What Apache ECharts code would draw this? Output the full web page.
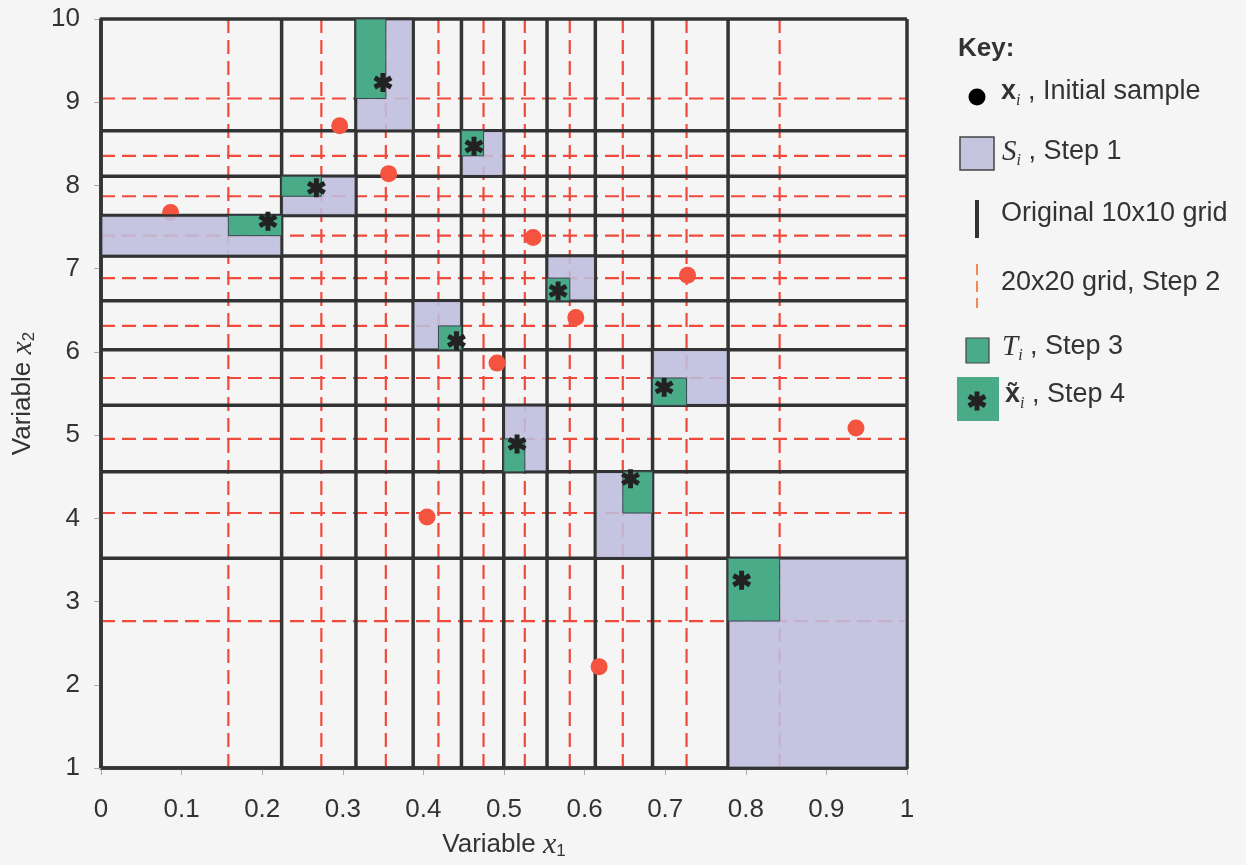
<!DOCTYPE html>
<html><head><meta charset="utf-8">
<script src="https://cdn.jsdelivr.net/npm/echarts@6/dist/echarts.min.js"></script>
<style>html,body{margin:0;padding:0;background:#f5f5f5;}#c{width:1246px;height:865px;}</style>
</head><body><div id="c"></div>
<script>
// Original 10x10 grid boundaries (solid lines)
const xCuts10 = [0, 0.2241, 0.3163, 0.3873, 0.4472, 0.4997, 0.5534, 0.6133, 0.6843, 0.7780, 1];
const yCuts10 = [1, 3.520, 4.559, 5.358, 6.025, 6.614, 7.151, 7.639, 8.110, 8.658, 10];
// 20x20 grid, step 2 (dashed lines), one inside each original column / row
const xCuts20 = [0.1580, 0.2734, 0.3534, 0.4187, 0.4746, 0.5258, 0.5816, 0.6474, 0.7265, 0.8420];
const yCuts20 = [2.766, 4.064, 4.955, 5.686, 6.312, 6.886, 7.397, 7.870, 8.356, 9.045];
// Initial sample x_i
const sampleX = [0.0863, 0.2961, 0.3569, 0.5361, 0.7277, 0.5891, 0.4914, 0.9367, 0.4045, 0.6180];
const sampleY = [7.675, 8.718, 8.142, 7.375, 6.920, 6.413, 5.865, 5.086, 4.016, 2.218];
// S_i cells (column / row index in the 10x10 grid)
const cellCol = [0, 1, 2, 4, 6, 3, 8, 5, 7, 9];
const cellRow = [6, 7, 9, 8, 5, 4, 3, 2, 1, 0];
// T_i sub-cell inside S_i: 0 = left/lower half, 1 = right/upper half
const subCol = [1, 0, 0, 0, 0, 1, 0, 0, 1, 0];
const subRow = [1, 1, 1, 1, 0, 0, 0, 0, 1, 1];
// Step 4 points x~_i
const starX = [0.2071, 0.2672, 0.3498, 0.4628, 0.5671, 0.4410, 0.6987, 0.5162, 0.6570, 0.7948];
const starY = [7.571, 7.971, 9.237, 8.470, 6.732, 6.133, 5.574, 4.894, 4.475, 3.256];

const FONT = 'Liberation Sans';
const SOLID = '#333333';
const DASH = '#f04a3c';
const PURPLE = '#c4c4de';
const GREEN = '#4aab88';
const DOT = '#f4543f';
const ARMS = [
  [[-0.26, -1], [0.26, -1], [0.26, 1], [-0.26, 1]],
  [[0.736, -0.725], [0.996, -0.275], [-0.736, 0.725], [-0.996, 0.275]],
  [[-0.996, -0.275], [-0.736, -0.725], [0.996, 0.275], [0.736, 0.725]]
];
const STAR = 'path://' + ARMS.map(a => 'M' + a.map(p => p[0] + ',' + p[1]).join('L') + 'Z').join(' ');

const sRects = cellCol.map((c, i) => {
  const r = cellRow[i];
  return [xCuts10[c], xCuts10[c + 1], yCuts10[r], yCuts10[r + 1]];
});
const tRects = cellCol.map((c, i) => {
  const r = cellRow[i];
  const x = subCol[i] ? [xCuts20[c], xCuts10[c + 1]] : [xCuts10[c], xCuts20[c]];
  const y = subRow[i] ? [yCuts20[r], yCuts10[r + 1]] : [yCuts10[r], yCuts20[r]];
  return [x[0], x[1], y[0], y[1]];
});

function lineSeries(vals, vertical, style, z) {
  return {
    type: 'custom', z: z, silent: true,
    data: vals.map(v => vertical ? [v, 1] : [0, v]),
    renderItem: function (params, api) {
      const v = vertical ? api.value(0) : api.value(1);
      const a = vertical ? api.coord([v, 1]) : api.coord([0, v]);
      const b = vertical ? api.coord([v, 10]) : api.coord([1, v]);
      return { type: 'line', shape: { x1: a[0], y1: a[1], x2: b[0], y2: b[1] }, style: style };
    }
  };
}
function rectSeries(data, fill, stroke, lw, z) {
  return {
    type: 'custom', z: z, silent: true,
    data: data,
    renderItem: function (params, api) {
      const p0 = api.coord([api.value(0), api.value(3)]);
      const p1 = api.coord([api.value(1), api.value(2)]);
      return { type: 'rect', shape: { x: p0[0], y: p0[1], width: p1[0] - p0[0], height: p1[1] - p0[1] },
        style: { fill: fill, stroke: stroke, lineWidth: lw } };
    }
  };
}

const nameRich = {
  n: { fontSize: 26, fontFamily: FONT, color: '#333' },
  v: { fontSize: 30, fontFamily: 'Liberation Serif', fontStyle: 'italic', color: '#333' },
  s: { fontSize: 17, fontFamily: FONT, color: '#333', verticalAlign: 'bottom', lineHeight: 14 }
};

const legRich = {
  n: { fontSize: 27, fontFamily: FONT, color: '#333', lineHeight: 34 },
  b: { fontSize: 27, fontFamily: FONT, fontWeight: 'bold', color: '#333', lineHeight: 34 },
  sc: { fontSize: 29, fontFamily: 'Liberation Serif', fontStyle: 'italic', color: '#333', lineHeight: 34 },
  s: { fontSize: 16, fontFamily: 'Liberation Serif', fontStyle: 'italic', color: '#333', verticalAlign: 'bottom', lineHeight: 16 }
};
function legText(x, y, text) {
  return { type: 'text', x: x, y: y, style: { text: text, rich: legRich, verticalAlign: 'middle', align: 'left', fill: '#333' } };
}
function legStar(cx, cy, half) {
  return ARMS.map(a => ({ type: 'polygon', shape: { points: a.map(p => [cx + p[0] * half, cy + p[1] * half]) }, style: { fill: '#222' } }));
}

const chart = echarts.init(document.getElementById('c'), null, { renderer: 'canvas' });
chart.setOption({
  backgroundColor: '#f5f5f5',
  animation: false,
  grid: { left: 101, right: 339, top: 19, bottom: 95 },
  xAxis: {
    type: 'value', min: 0, max: 1, interval: 0.1,
    axisLine: { show: true, lineStyle: { color: SOLID, width: 3.5 } },
    axisTick: { show: true, length: 7, lineStyle: { color: '#aaa', width: 1 } },
    axisLabel: { fontSize: 26, color: '#333', margin: 29, fontFamily: FONT },
    splitLine: { show: false },
    name: '{n|Variable }{v|x}{s|1}', nameLocation: 'middle', nameGap: 62,
    nameTextStyle: { rich: nameRich }
  },
  yAxis: {
    type: 'value', min: 1, max: 10, interval: 1,
    axisLine: { show: true, lineStyle: { color: SOLID, width: 3.5 } },
    axisTick: { show: true, length: 7, lineStyle: { color: '#aaa', width: 1 } },
    axisLabel: { fontSize: 26, color: '#333', margin: 21, fontFamily: FONT },
    splitLine: { show: false },
    name: '{n|Variable }{v|x}{s|2}', nameLocation: 'middle', nameGap: 63,
    nameTextStyle: { rich: nameRich }
  },
  series: [
    lineSeries(xCuts20, true, { stroke: DASH, lineWidth: 2.2, lineDash: [14, 7] }, 2),
    lineSeries(yCuts20, false, { stroke: DASH, lineWidth: 2.2, lineDash: [14, 7] }, 2),
    lineSeries(xCuts10, true, { stroke: SOLID, lineWidth: 3.5 }, 3),
    lineSeries(yCuts10, false, { stroke: SOLID, lineWidth: 3.5 }, 3),
    { type: 'scatter', z: 4, silent: true, symbol: 'circle', symbolSize: 17,
      itemStyle: { color: DOT, opacity: 1 },
      data: sampleX.map((x, i) => [x, sampleY[i]]) },
    rectSeries(sRects, 'rgba(190,190,222,0.88)', SOLID, 2.5, 5),
    rectSeries(tRects, GREEN, '#3a4a55', 1, 6),
    { type: 'scatter', z: 7, silent: true, symbol: STAR, symbolSize: 19,
      itemStyle: { color: '#222', opacity: 1 },
      data: starX.map((x, i) => [x, starY[i]]) }
  ],
  graphic: [
    { type: 'text', x: 958, y: 49, style: { text: 'Key:', fontSize: 26, fontWeight: 'bold', fontFamily: FONT, fill: '#333', verticalAlign: 'middle' } },
    { type: 'circle', shape: { cx: 977, cy: 97, r: 8.5 }, style: { fill: '#000' } },
    legText(1001, 92, '{b|x}{s|i}{n| , Initial sample}'),
    { type: 'rect', shape: { x: 960, y: 137, width: 34, height: 33 }, style: { fill: PURPLE, stroke: '#444', lineWidth: 1.5 } },
    legText(1002, 152, '{sc|S}{s|i}{n| , Step 1}'),
    { type: 'rect', shape: { x: 975, y: 200, width: 4, height: 38 }, style: { fill: SOLID } },
    legText(1001, 214, '{n|Original 10x10 grid}'),
    { type: 'line', shape: { x1: 977, y1: 264, x2: 977, y2: 308 }, style: { stroke: '#f08a50', lineWidth: 2, lineDash: [11, 6] } },
    legText(1001, 283, '{n|20x20 grid, Step 2}'),
    { type: 'rect', shape: { x: 966, y: 338, width: 23, height: 25 }, style: { fill: GREEN, stroke: '#444', lineWidth: 1.2 } },
    legText(1002, 347, '{sc|T}{s|i}{n| , Step 3}'),
    { type: 'rect', shape: { x: 957, y: 377, width: 42, height: 44 }, style: { fill: GREEN } }
  ].concat(legStar(977, 401, 9.5)).concat([
    legText(1005, 395, '{b|x\u0303}{s|i}{n| , Step 4}')
  ])
});
</script></body></html>
